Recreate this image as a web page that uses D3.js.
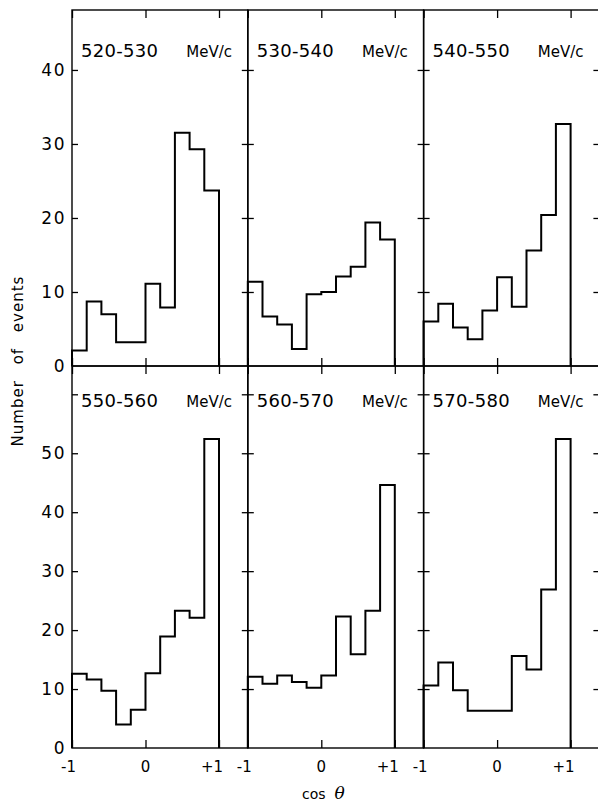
<!DOCTYPE html>
<html>
<head>
<meta charset="utf-8">
<script src="https://cdn.jsdelivr.net/npm/d3@7"></script>
<style>
  html, body { margin: 0; padding: 0; background: #fff; }
  svg { display: block; }
</style>
</head>
<body>
<script>
// momentum bins (MeV/c), one panel each
const ranges = ["520-530", "530-540", "540-550", "550-560", "560-570", "570-580"];
// cos(theta) bin edges, 10 bins of 0.2
const binEdges = [-1, -0.8, -0.6, -0.4, -0.2, 0, 0.2, 0.4, 0.6, 0.8, 1];
// number of events per bin
const counts520 = [2.1, 8.7, 7.0, 3.2, 3.2, 11.1, 7.9, 31.5, 29.3, 23.7];
const counts530 = [11.4, 6.7, 5.6, 2.3, 9.7, 10.0, 12.1, 13.4, 19.4, 17.1];
const counts540 = [6.0, 8.4, 5.2, 3.6, 7.5, 12.0, 8.0, 15.6, 20.4, 32.7];
const counts550 = [12.6, 11.6, 9.7, 4.0, 6.5, 12.7, 18.9, 23.3, 22.1, 52.4];
const counts560 = [12.1, 10.9, 12.3, 11.2, 10.2, 12.3, 22.3, 15.9, 23.3, 44.6];
const counts570 = [10.6, 14.5, 9.8, 6.3, 6.3, 6.3, 15.6, 13.3, 26.9, 52.4];
const allCounts = [counts520, counts530, counts540, counts550, counts560, counts570];
// ticks and tick labels
const yTicksTop = [10, 20, 30, 40];
const yTicksBottom = [10, 20, 30, 40, 50, 60];
const yLabelsTop = [0, 10, 20, 30, 40];
const yLabelsBottom = [0, 10, 20, 30, 40, 50];
const xTicks = [-1, 0, 1];
const xTickLabels = ["-1", "0", "+1"];

(function(){
  const width = 598, height = 807;
  const left = 72, panelW = 175.8;
  const unit = 73.5; // px per unit of cos theta

  const svg = d3.select("body").append("svg")
      .attr("width", width)
      .attr("height", height)
      .attr("font-family", "'DejaVu Sans', sans-serif");

  const yTop = d3.scaleLinear().domain([0, 48.1]).range([366, 10]);
  const yBottom = d3.scaleLinear().domain([0, 64.8]).range([748, 366]);

  const line = d3.line().curve(d3.curveStepAfter);

  ranges.forEach((label, i) => {
    const col = i % 3, row = Math.floor(i / 3);
    const x0 = left + col * panelW;
    const x = d3.scaleLinear().domain([-1, -1 + panelW / unit]).range([x0, x0 + panelW]);
    const y = row === 0 ? yTop : yBottom;
    const yt = row === 0 ? yTicksTop : yTicksBottom;
    const [yb, ytp] = y.range();

    const g = svg.append("g");

    // frame
    g.append("rect")
        .attr("x", x0).attr("y", ytp)
        .attr("width", panelW).attr("height", yb - ytp)
        .attr("fill", "none")
        .attr("stroke", "#000")
        .attr("stroke-width", 1.4);

    // y ticks, inward on both sides
    g.append("g")
        .attr("transform", `translate(${x0},0)`)
        .call(d3.axisRight(y).tickValues(yt).tickSize(6).tickFormat(""))
        .call(a => a.select(".domain").remove())
        .call(a => a.selectAll("line").attr("stroke-width", 1.3));
    g.append("g")
        .attr("transform", `translate(${x0 + panelW},0)`)
        .call(d3.axisLeft(y).tickValues(yt).tickSize(6).tickFormat(""))
        .call(a => a.select(".domain").remove())
        .call(a => a.selectAll("line").attr("stroke-width", 1.3));

    // y tick labels on the left column only
    if (col === 0) {
      g.append("g")
          .selectAll("text")
          .data(row === 0 ? yLabelsTop : yLabelsBottom)
          .join("text")
            .attr("x", x0 - 6)
            .attr("y", d => y(d))
            .attr("dy", "0.36em")
            .attr("text-anchor", "end")
            .attr("font-size", 17)
            .attr("letter-spacing", 1.5)
            .text(d => d);
    }

    // x ticks, inward at top and bottom
    g.append("g")
        .attr("transform", `translate(0,${ytp})`)
        .call(d3.axisBottom(x).tickValues(xTicks).tickSize(8).tickFormat(""))
        .call(a => a.select(".domain").remove())
        .call(a => a.selectAll("line").attr("stroke-width", 1.3));
    g.append("g")
        .attr("transform", `translate(0,${yb})`)
        .call(d3.axisTop(x).tickValues(xTicks).tickSize(8).tickFormat(""))
        .call(a => a.select(".domain").remove())
        .call(a => a.selectAll("line").attr("stroke-width", 1.3));

    // x tick labels on the bottom row
    if (row === 1) {
      g.append("g")
          .selectAll("text")
          .data(xTicks)
          .join("text")
            .attr("x", d => x(d) + (d === 0 ? 0 : 4))
            .attr("y", yb + 24)
            .attr("text-anchor", d => d === 0 ? "middle" : "end")
            .attr("font-size", 15)
            .text((d, k) => xTickLabels[k]);
    }

    // histogram
    const counts = allCounts[i];
    const pts = [[-1, 0]]
      .concat(counts.map((v, k) => [binEdges[k], v]))
      .concat([[1, counts[counts.length - 1]], [1, 0]]);
    g.append("path")
        .attr("d", line(pts.map(p => [x(p[0]), y(p[1])])))
        .attr("fill", "none")
        .attr("stroke", "#000")
        .attr("stroke-width", 2)
        .attr("stroke-linejoin", "miter");

    // panel title
    const ty = row === 0 ? 57 : 407;
    g.append("text")
        .attr("x", x0 + 9)
        .attr("y", ty)
        .attr("font-size", 18)
        .attr("letter-spacing", 0.3)
        .text(label);
    g.append("text")
        .attr("x", x0 + 160)
        .attr("y", ty)
        .attr("text-anchor", "end")
        .attr("font-size", 15)
        .text("MeV/c");
  });

  // axis titles
  svg.append("text")
      .attr("transform", "translate(23,361) rotate(-90)")
      .attr("text-anchor", "middle")
      .attr("font-size", 15)
      .attr("letter-spacing", 1)
      .attr("word-spacing", 10)
      .text("Number of events");

  const xt = svg.append("text")
      .attr("x", 302)
      .attr("y", 799)
      .attr("font-size", 14);
  xt.append("tspan").text("cos");
  xt.append("tspan")
      .attr("dx", 9)
      .attr("font-family", "'DejaVu Serif', serif")
      .attr("font-style", "italic")
      .attr("font-size", 17)
      .text("θ");
})();
</script>
</body>
</html>
